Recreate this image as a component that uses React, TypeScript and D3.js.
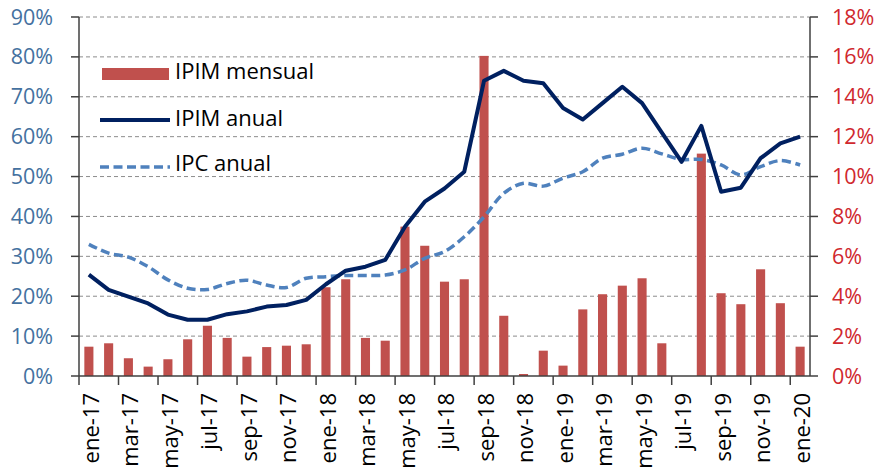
import React from 'react';
import * as d3 from 'd3';

const width = 879;
const height = 472;
const margin = { top: 17, left: 79, bottom: 96, right: 69 };
const innerWidth = width - margin.left - margin.right;
const innerHeight = height - margin.top - margin.bottom;

const monthNames = ['ene', 'feb', 'mar', 'abr', 'may', 'jun', 'jul', 'ago', 'sep', 'oct', 'nov', 'dic'];
const months = d3.range(37).map((i) => `${monthNames[i % 12]}-${17 + Math.floor(i / 12)}`);

// % mensual (eje derecho)
const ipimMensual = [
  1.47, 1.64, 0.89, 0.47, 0.84, 1.84, 2.52, 1.91, 0.97, 1.45, 1.52, 1.59,
  4.45, 4.85, 1.91, 1.77, 7.49, 6.53, 4.73, 4.85, 16.05, 3.02, 0.1, 1.27,
  0.52, 3.34, 4.1, 4.53, 4.9, 1.64, 0, 11.15, 4.15, 3.6, 5.35, 3.65, 1.47,
];
// % anual (eje izquierdo)
const ipimAnual = [
  25.4, 21.6, 19.9, 18.2, 15.4, 14.1, 14.1, 15.5, 16.2, 17.4, 17.8, 19.1,
  23.0, 26.4, 27.4, 29.1, 37.4, 43.7, 47.0, 51.2, 74.0, 76.5, 74.0, 73.4,
  67.2, 64.3, 68.4, 72.5, 68.4, 61.0, 53.7, 62.7, 46.2, 47.2, 54.6, 58.3, 60.0,
];
const ipcAnual = [
  33.0, 30.8, 29.8, 27.4, 24.1, 22.0, 21.7, 23.2, 24.0, 22.8, 22.2, 24.5,
  24.9, 25.2, 25.2, 25.3, 26.6, 29.5, 31.2, 34.9, 39.9, 45.8, 48.3, 47.6,
  49.6, 51.2, 54.6, 55.6, 57.1, 55.7, 54.3, 54.3, 52.9, 50.4, 52.5, 54.0, 52.9,
];
const leftTicks = [0, 10, 20, 30, 40, 50, 60, 70, 80, 90];
const rightTicks = [0, 2, 4, 6, 8, 10, 12, 14, 16, 18];

const font = '"Open Sans", sans-serif';
const barColor = '#C0504D';
const ipimColor = '#002060';
const ipcColor = '#4F81BD';
const axisColor = '#404040';

export default function App() {
  const x = d3.scaleBand<string>().domain(months).range([0, innerWidth]);
  const yLeft = d3.scaleLinear().domain([0, 90]).range([innerHeight, 0]);
  const yRight = d3.scaleLinear().domain([0, 18]).range([innerHeight, 0]);
  const bw = x.bandwidth();
  const cx = (m: string) => (x(m) as number) + bw / 2;

  const solid = d3.line<number>()
    .x((_, i) => cx(months[i]))
    .y((d) => yLeft(d));
  const smooth = d3.line<number>()
    .x((_, i) => cx(months[i]))
    .y((d) => yLeft(d))
    .curve(d3.curveCatmullRom.alpha(0.5));

  return (
    <svg width={width} height={height} style={{ position: 'absolute', left: 0, top: 0, background: '#fff' }}>
      <g transform={`translate(${margin.left}, ${margin.top})`}>
        {/* grid */}
        {leftTicks.filter((t) => t > 0).map((t) => (
          <line key={t} x1={0} x2={innerWidth} y1={yLeft(t)} y2={yLeft(t)}
            stroke="#8c8c8c" strokeWidth={1} strokeDasharray="4 3" />
        ))}
        {/* bars */}
        {ipimMensual.map((v, i) => (
          <rect key={i} x={cx(months[i]) - bw * 0.23} width={bw * 0.46}
            y={yRight(v)} height={innerHeight - yRight(v)} fill={barColor} />
        ))}
        {/* lines */}
        <path d={smooth(ipcAnual) || ''} fill="none" stroke={ipcColor} strokeWidth={3.5}
          strokeDasharray="9 4.5" />
        <path d={solid(ipimAnual) || ''} fill="none" stroke={ipimColor} strokeWidth={4}
          strokeLinejoin="round" />
        {/* axes */}
        <line x1={0} x2={0} y1={0} y2={innerHeight} stroke={axisColor} strokeWidth={1.5} />
        <line x1={innerWidth} x2={innerWidth} y1={0} y2={innerHeight} stroke={axisColor} strokeWidth={1.5} />
        <line x1={0} x2={innerWidth} y1={innerHeight} y2={innerHeight} stroke={axisColor} strokeWidth={1.5} />
        {leftTicks.map((t) => (
          <g key={t} transform={`translate(0, ${yLeft(t)})`}>
            <line x1={-8} x2={0} stroke={axisColor} strokeWidth={1.5} />
            <text x={-26} dy="0.35em" textAnchor="end" fill="#44719f"
              style={{ fontFamily: font, fontSize: 21.5 }}>{t}%</text>
          </g>
        ))}
        {rightTicks.map((t) => (
          <g key={t} transform={`translate(${innerWidth}, ${yRight(t)})`}>
            <line x1={0} x2={8} stroke={axisColor} strokeWidth={1.5} />
            <text x={22} dy="0.35em" textAnchor="start" fill="#d0282e"
              style={{ fontFamily: font, fontSize: 21.5 }}>{t}%</text>
          </g>
        ))}
        {months.map((m, i) => (i % 2 === 0 ? (
          <g key={m}>
            <line x1={x(m)} x2={x(m)} y1={innerHeight} y2={innerHeight + 9}
              stroke={axisColor} strokeWidth={1.5} />
            <text transform={`translate(${cx(m) + 2}, ${innerHeight + 17}) rotate(-90)`}
              textAnchor="end" dy="0.35em" fill="#000"
              style={{ fontFamily: font, fontSize: 22 }}>{m}</text>
          </g>
        ) : null))}
      </g>
      {/* legend */}
      <g style={{ fontFamily: font, fontSize: 22 }}>
        <rect x={102} y={68} width={67} height={12} fill={barColor} />
        <text x={175} y={78.5}>IPIM mensual</text>
        <line x1={100} x2={170} y1={120} y2={120} stroke={ipimColor} strokeWidth={4} />
        <text x={175} y={126}>IPIM anual</text>
        <line x1={100} x2={170} y1={167} y2={167} stroke={ipcColor} strokeWidth={3.5} strokeDasharray="9 4.5" />
        <text x={175} y={170.7}>IPC anual</text>
      </g>
    </svg>
  );
}
